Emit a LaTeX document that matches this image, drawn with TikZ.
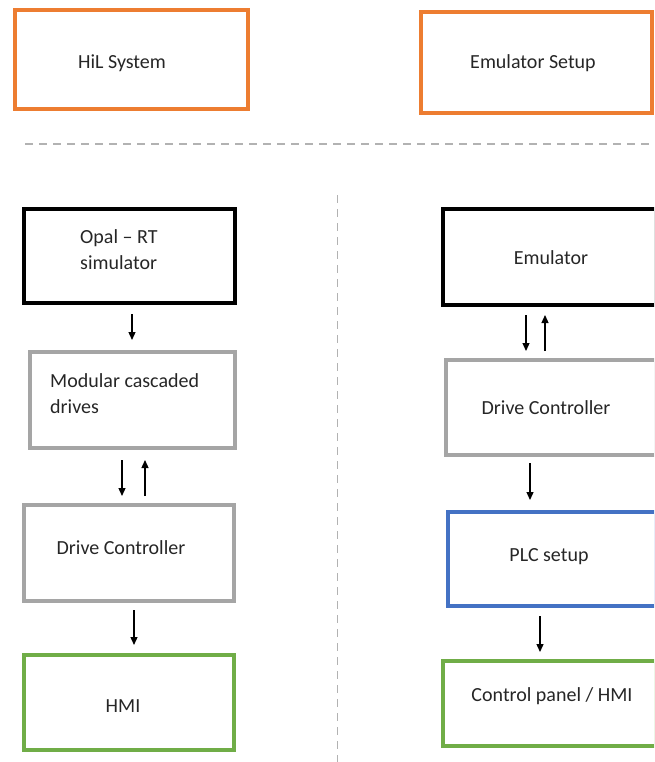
\documentclass[tikz,border=0pt]{standalone}
\usepackage{fontspec}
\setmainfont{Carlito}
\usetikzlibrary{arrows.meta}
\definecolor{orng}{HTML}{ED7D31}
\definecolor{gryb}{HTML}{A5A5A5}
\definecolor{blub}{HTML}{4472C4}
\definecolor{grnb}{HTML}{70AD47}
\definecolor{txt}{HTML}{262626}
\begin{document}
\begin{tikzpicture}[x=1pt,y=-1pt,
  box/.style={draw,line width=3.5pt,inner sep=0pt,outer sep=0pt},
  lbl/.style={font=\fontsize{20}{26}\selectfont,text=txt,inner sep=0pt,align=left},
  arr/.style={line width=1.3pt,-{Triangle[length=8pt,width=7pt]}},
  sep/.style={draw=gray!60,line width=1.2pt,dash pattern=on 8pt off 6pt}]
\useasboundingbox (0,0) rectangle (654,762);
\clip (0,0) rectangle (654,762);
% top boxes
\node[box,draw=orng,minimum width=233pt,minimum height=99pt] (hil) at (131.5,59.5) {};
\node[lbl] (hilt) at (122,63) {HiL System};
\node[box,draw=orng,minimum width=231pt,minimum height=101pt] (emus) at (536.5,62.5) {};
\node[lbl] (emust) at (533,63) {Emulator Setup};
% separators
\coordinate (h1) at (25,144);
\coordinate (h2) at (654,144);
\draw[sep] (h1) -- (h2);
\coordinate (v1) at (337.5,195);
\coordinate (v2) at (337.5,762);
\draw[sep] (v1) -- (v2);
% left column
\node[box,draw=black,minimum width=211pt,minimum height=94pt] (opal) at (129.5,256) {};
\node[lbl,anchor=west] (opalt) at (80,249.5) {Opal -- RT\\simulator};
\node[box,draw=gryb,minimum width=205pt,minimum height=96pt] (mod) at (132.5,400) {};
\node[lbl,anchor=west] (modt) at (50,394) {Modular cascaded\\drives};
\node[box,draw=gryb,minimum width=210pt,minimum height=96pt] (dcl) at (129,553) {};
\node[lbl] (dclt) at (121,548) {Drive Controller};
\node[box,draw=grnb,minimum width=210pt,minimum height=95pt] (hmi) at (129,702.5) {};
\node[lbl] (hmit) at (123,706) {HMI};
% right column
\node[box,draw=black,minimum width=213pt,minimum height=96pt] (emu) at (549.5,257) {};
\node[lbl] (emut) at (551,258) {Emulator};
\node[box,draw=gryb,minimum width=210pt,minimum height=95pt] (dcr) at (551,407.5) {};
\node[lbl] (dcrt) at (546,408) {Drive Controller};
\node[box,draw=blub,minimum width=208pt,minimum height=94pt] (plc) at (552,559) {};
\node[lbl] (plct) at (549,557) {PLC setup};
\node[box,draw=grnb,minimum width=213pt,minimum height=85pt] (cp) at (549.5,703.5) {};
\node[lbl] (cpt) at (552,696) {Control panel / HMI};
% arrows left
\coordinate (a1s) at (132,314); \coordinate (a1e) at (132,340);
\draw[arr] (a1s) -- (a1e);
\coordinate (a2s) at (122,460); \coordinate (a2e) at (122,496);
\draw[arr] (a2s) -- (a2e);
\coordinate (a3s) at (145,496); \coordinate (a3e) at (145,460);
\draw[arr] (a3s) -- (a3e);
\coordinate (a4s) at (134,610); \coordinate (a4e) at (134,645);
\draw[arr] (a4s) -- (a4e);
% arrows right
\coordinate (b1s) at (526,315); \coordinate (b1e) at (526,351);
\draw[arr] (b1s) -- (b1e);
\coordinate (b2s) at (545,351); \coordinate (b2e) at (545,315);
\draw[arr] (b2s) -- (b2e);
\coordinate (b3s) at (530,463); \coordinate (b3e) at (530,500);
\draw[arr] (b3s) -- (b3e);
\coordinate (b4s) at (540,616); \coordinate (b4e) at (540,652);
\draw[arr] (b4s) -- (b4e);
\end{tikzpicture}
\end{document}
